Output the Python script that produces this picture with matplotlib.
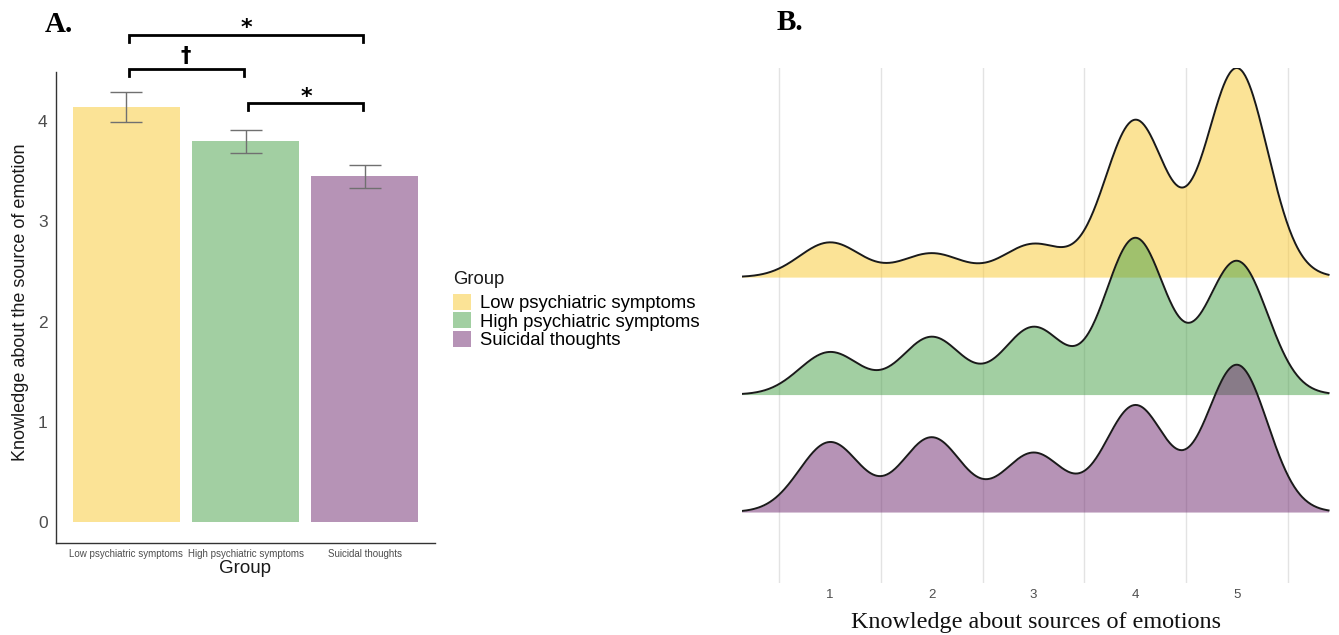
import numpy as np
import matplotlib

matplotlib.use("Agg")
import matplotlib.pyplot as plt
from matplotlib.patches import Patch

# Panel A: group means with standard errors
groups = ["Low psychiatric symptoms", "High psychiatric symptoms", "Suicidal thoughts"]
group_means = [4.14, 3.80, 3.45]
group_se = [0.15, 0.115, 0.115]

# pairwise comparisons: (group i, group j, marker, bracket height)
comparisons = [(1, 3, "*", 4.86), (1, 2, "\u2020", 4.52), (2, 3, "*", 4.18)]

# Panel B: share of responses (%) at each knowledge level
levels = [1, 2, 3, 4, 5]
low_pct = [7.6, 5.2, 7.2, 34.3, 45.7]
high_pct = [9.3, 12.6, 14.7, 34.2, 29.2]
suicidal_pct = [15.3, 16.3, 12.9, 23.3, 32.2]
bandwidth = 0.3

colors = ["#F9C82E", "#46A046", "#6F286F"]
ALPHA = 0.5

W, H = 1339, 635
fig = plt.figure(figsize=(W / 100, H / 100), dpi=100)


def px_axes(x0, y0, x1, y1):
    return fig.add_axes([x0 / W, 1 - y1 / H, (x1 - x0) / W, (y1 - y0) / H])


# ---------------- Panel A ----------------
axA = px_axes(56, 72, 435, 543)
xpos = np.arange(1, len(groups) + 1)
axA.bar(xpos, group_means, width=0.9, color=colors, alpha=ALPHA, linewidth=0)
axA.errorbar(xpos, group_means, yerr=group_se, fmt="none", ecolor="#707070",
             elinewidth=1.0, capsize=11.5, capthick=1.0)
axA.set_xlim(0.41, 3.59)
axA.set_ylim(-0.21, 4.49)
axA.set_yticks([0, 1, 2, 3, 4])
axA.set_xticks(xpos)
axA.set_xticklabels(groups, fontsize=7, color="#4D4D4D", family="Liberation Sans")
for lab in axA.get_yticklabels():
    lab.set_fontsize(12.5)
    lab.set_color("#4D4D4D")
    lab.set_family("Liberation Sans")
axA.tick_params(axis="both", length=0)
axA.tick_params(axis="y", pad=6)
axA.tick_params(axis="x", pad=4)
for s in ("top", "right"):
    axA.spines[s].set_visible(False)
for s in ("left", "bottom"):
    axA.spines[s].set_color("#333333")
    axA.spines[s].set_linewidth(1.0)
axA.set_ylabel("Knowledge about the source of emotion", fontsize=13,
               family="Liberation Sans", color="#1A1A1A")
axA.yaxis.set_label_coords(-0.071, 0.512)
axA.set_xlabel("Group", fontsize=13.5, family="Liberation Sans", color="#1A1A1A", labelpad=1)

arm = 0.07
for i, j, mark, yb in comparisons:
    axA.plot([i + 0.02, i + 0.02, j - 0.01, j - 0.01], [yb - arm, yb, yb, yb - arm],
             color="black", lw=2.0, clip_on=False, solid_joinstyle="miter")
    if mark == "*":
        axA.text((i + j) / 2 + 0.01, yb - 0.035, mark, ha="center", va="bottom", fontsize=16,
                 fontweight="bold", color="black", clip_on=False, family="DejaVu Sans")
    else:
        axA.text((i + j) / 2, yb + 0.03, mark, ha="center", va="bottom", fontsize=15,
                 fontweight="bold", color="black", clip_on=False, family="DejaVu Sans")

# legend for the group colours
handles = [Patch(facecolor=c, alpha=ALPHA, edgecolor="none") for c in colors]
fig.legend(handles, groups, loc="upper left",
           bbox_to_anchor=(453 / W, 1 - 294 / H), frameon=False,
           handlelength=0.95, handleheight=0.95, labelspacing=0.0,
           handletextpad=0.5, borderaxespad=0, borderpad=0,
           prop={"family": "Liberation Sans", "size": 13.3})
fig.text(453 / W, 1 - 279 / H, "Group", fontsize=13.3, family="Liberation Sans",
         color="#1A1A1A", va="center", ha="left")

# ---------------- Panel B ----------------
axB = px_axes(742, 68, 1330, 583)
grid_x = np.linspace(0.13, 5.9, 600)


def density(pct):
    p = np.asarray(pct) / np.sum(pct)
    z = (grid_x[:, None] - np.asarray(levels)[None, :]) / bandwidth
    return (p[None, :] * np.exp(-0.5 * z ** 2)).sum(axis=1) / (bandwidth * np.sqrt(2 * np.pi))


dens = [density(low_pct), density(high_pct), density(suicidal_pct)]
scale = 1.78 / max(d.max() for d in dens)
baselines = [3, 2, 1]

for xg in np.arange(0.5, 6.0, 1.0):
    axB.axvline(xg, color="#E3E3E3", lw=1.0, zorder=0)

for k, (d, base, c) in enumerate(zip(dens, baselines, colors)):
    top = base + d * scale
    axB.fill_between(grid_x, base, top, color=c, alpha=ALPHA, linewidth=0, zorder=2 + k)
    axB.plot(grid_x, top, color="#1A1A1A", lw=1.4, zorder=2 + k)

axB.set_xlim(0.135, 5.914)
axB.set_ylim(0.396, 4.78)
axB.set_yticks([])
axB.set_xticks(levels)
axB.set_xticklabels([str(v) for v in levels], fontsize=9.5, color="#4D4D4D",
                    family="Liberation Sans")
axB.tick_params(axis="x", length=0, pad=4)
for s in axB.spines.values():
    s.set_visible(False)
axB.set_xlabel("Knowledge about sources of emotions", fontsize=17.4,
               family="Liberation Serif", color="#111111", labelpad=8)

# panel tags
fig.text(45 / W, 1 - 25 / H, "A.", fontsize=21, fontweight="bold",
         family="Liberation Serif", va="center", ha="left")
fig.text(777 / W, 1 - 23 / H, "B.", fontsize=21, fontweight="bold",
         family="Liberation Serif", va="center", ha="left")

fig.savefig("out.png", dpi=100)
